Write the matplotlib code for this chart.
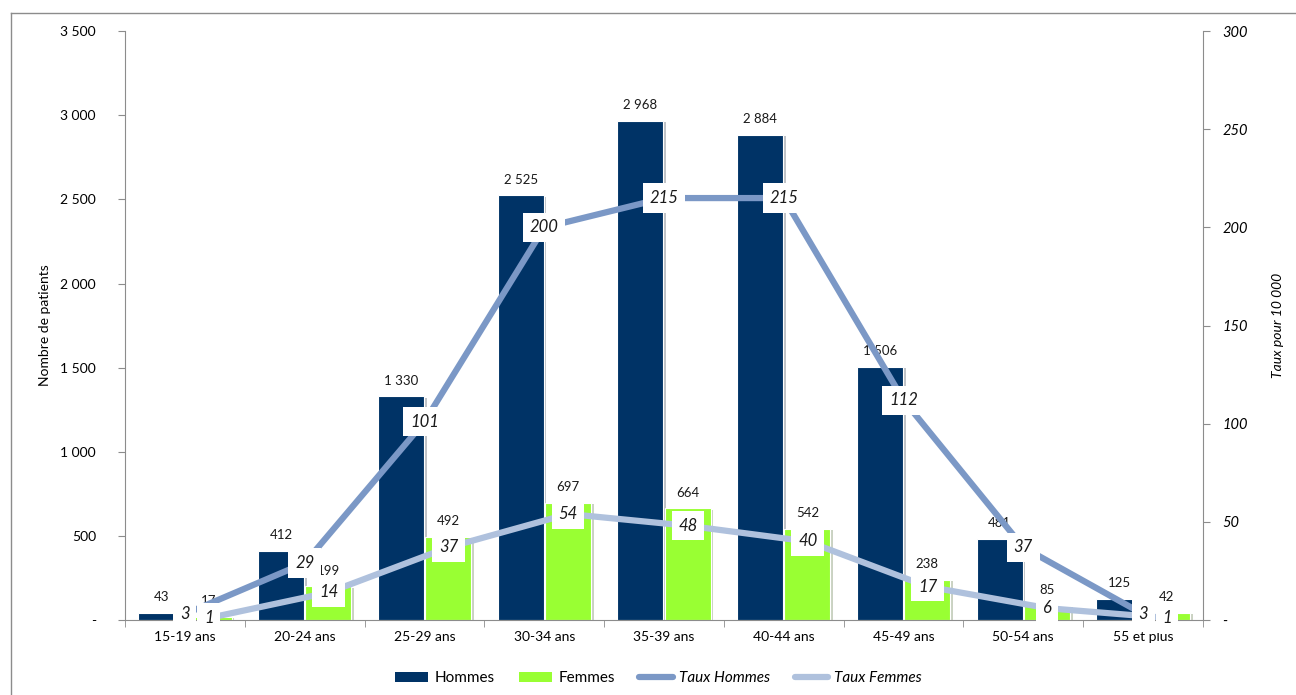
import numpy as np
import matplotlib.pyplot as plt
from matplotlib.lines import Line2D
from matplotlib.patches import Patch
import matplotlib.patheffects as pe

plt.rcParams['font.family'] = ['Lato', 'DejaVu Sans']

categories = ['15-19 ans', '20-24 ans', '25-29 ans', '30-34 ans', '35-39 ans',
              '40-44 ans', '45-49 ans', '50-54 ans', '55 et plus']
hommes = [43, 412, 1330, 2525, 2968, 2884, 1506, 481, 125]
femmes = [17, 199, 492, 697, 664, 542, 238, 85, 42]
taux_hommes = [3, 29, 101, 200, 215, 215, 112, 37, 3]
taux_femmes = [1, 14, 37, 54, 48, 40, 17, 6, 1]

c_h = '#003366'
c_f = '#99FF33'
c_th = '#7B98C6'
c_tf = '#AFC1DD'

fig = plt.figure(figsize=(12.96, 6.95), dpi=100)
ax = fig.add_axes([0.0965, 0.108, 0.8317, 0.847])
ax2 = ax.twinx()

# outer frame like the spreadsheet chart area
top = 1 - 12.5 / 695
left = 10.5 / 1296
fig.add_artist(Line2D([left, 1], [top, top], transform=fig.transFigure,
                      color='#8c8c8c', lw=1.0))
fig.add_artist(Line2D([left, left], [0, top], transform=fig.transFigure,
                      color='#8c8c8c', lw=1.0))

x = np.arange(len(categories))
w = 0.385
shadow = [pe.SimplePatchShadow(offset=(2, -1), alpha=0.25), pe.Normal()]
b1 = ax.bar(x - w / 2 - 0.005, hommes, w, color=c_h, edgecolor='white',
            lw=0.8, path_effects=shadow)
b2 = ax.bar(x + w / 2 + 0.005, femmes, w, color=c_f, edgecolor='white',
            lw=0.8, path_effects=shadow)

for bars, vals in ((b1, hommes), (b2, femmes)):
    for r, v in zip(bars, vals):
        ax.annotate(f'{v:,}'.replace(',', ' '),
                    (r.get_x() + r.get_width() / 2, v),
                    xytext=(0, 7), textcoords='offset points',
                    ha='center', va='bottom', fontsize=9.5, color='#1a1a1a')

ax.set_xlim(-0.5, len(categories) - 0.5)
ax.set_ylim(0, 3500)
ax.set_yticks(np.arange(0, 3501, 500))
ax.set_yticklabels(['-'] + [f'{v:,}'.replace(',', ' ') for v in range(500, 3501, 500)])
ax.set_xticks(x)
ax.set_xticklabels(categories)
ax.set_xticks(np.arange(-0.5, len(categories)), minor=True)
ax.tick_params(axis='x', which='major', length=0, pad=8, labelsize=10)
ax.tick_params(axis='x', which='minor', length=5, color='#8c8c8c')
ax.tick_params(axis='y', length=5, color='#8c8c8c', pad=16, labelsize=10)
ax.set_ylabel('Nombre de patients', fontsize=10)
ax.yaxis.set_label_coords(-0.069, 0.5)

for s in ('top', 'right'):
    ax.spines[s].set_visible(False)
for s in ('left', 'bottom'):
    ax.spines[s].set_color('#8c8c8c')

off = 0.2
ax2.plot(x, taux_hommes, color=c_th, lw=4.5, solid_capstyle='butt', zorder=3)
ax2.plot(x + off, taux_femmes, color=c_tf, lw=4.5, solid_capstyle='butt', zorder=3)
for xs, vals in ((x, taux_hommes), (x + off, taux_femmes)):
    for xi, v in zip(xs, vals):
        ax2.text(xi, v, str(v), ha='center', va='center', fontsize=12,
                 style='italic', color='#1a1a1a', zorder=5,
                 bbox=dict(boxstyle='square,pad=0.4', fc='white', ec='none'))

ax2.set_ylim(0, 300)
ax2.set_yticks(np.arange(0, 301, 50))
ax2.set_yticklabels(['-'] + [str(v) for v in range(50, 301, 50)],
                    fontstyle='italic')
ax2.tick_params(axis='y', length=5, color='#8c8c8c', pad=9, labelsize=10.5)
ax2.set_ylabel('Taux pour 10 000', fontsize=10, style='italic')
ax2.yaxis.set_label_coords(1.064, 0.5)
for s in ('top', 'left', 'bottom'):
    ax2.spines[s].set_visible(False)
ax2.spines['right'].set_color('#8c8c8c')

handles = [Patch(facecolor=c_h), Patch(facecolor=c_f),
           Line2D([], [], color=c_th, lw=4.5, solid_capstyle='round'),
           Line2D([], [], color=c_tf, lw=4.5, solid_capstyle='round')]
leg = fig.legend(handles, ['Hommes', 'Femmes', 'Taux Hommes', 'Taux Femmes'],
                 loc='center', bbox_to_anchor=(0.508, 0.024), ncol=4,
                 frameon=False, fontsize=11, handlelength=2.2,
                 handleheight=0.6, columnspacing=1.6, handletextpad=0.4)
for t in leg.get_texts()[2:]:
    t.set_style('italic')

fig.savefig('out.png', dpi=100)
